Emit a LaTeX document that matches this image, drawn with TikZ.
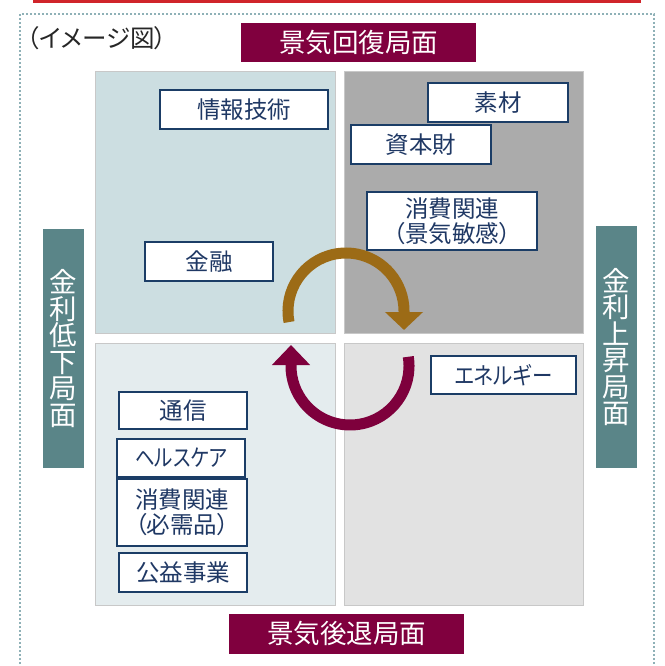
\documentclass[tikz,border=0pt]{standalone}
\usepackage{fontspec}
\usepackage{graphicx}
\setmainfont{Noto Sans CJK JP}[RawFeature=+palt]
\usetikzlibrary{arrows.meta,calc}
\newcommand\mytight{\lineskiplimit=-50pt\relax}
\definecolor{redline}{HTML}{D0242A}
\definecolor{dotc}{HTML}{8FB1B7}
\definecolor{qtlc}{HTML}{CCDEE1}
\definecolor{qtrc}{HTML}{ABABAB}
\definecolor{qblc}{HTML}{E4ECEE}
\definecolor{qbrc}{HTML}{E2E2E2}
\definecolor{quadedge}{HTML}{C8C8C8}
\definecolor{navyb}{HTML}{1B3D66}
\definecolor{navyt}{HTML}{1F3864}
\definecolor{maroonc}{HTML}{80003E}
\definecolor{tealc}{HTML}{5A8588}
\definecolor{goldc}{HTML}{9C6B16}
\definecolor{arcmaroon}{HTML}{7E003C}
\tikzset{
  quad/.style={draw=quadedge, line width=1pt, inner sep=0pt},
  item/.style={draw=navyb, line width=1.8pt, fill=white, text=navyt, font=\fontsize{23.5}{25}\selectfont\mytight, inner sep=0pt, align=center},
  phase/.style={fill=maroonc, text=white, font=\fontsize{26.5}{28}\selectfont, inner sep=0pt, minimum width=235pt},
  rate/.style={fill=tealc, text=white, font=\fontsize{27.5}{26.5}\selectfont\mytight, align=center, inner sep=0pt, minimum width=41pt},
  cyc/.style={line width=11pt},
}
\begin{document}
\begin{tikzpicture}[x=1pt,y=-1pt]
\useasboundingbox (0,0) rectangle (664,666);
% top red rule
\fill[redline] (33,0) rectangle (641,3);
% dotted frame
\draw[dotc, line width=2pt, dash pattern=on 2pt off 2pt] (20,668) -- (20,14) -- (654,14) -- (654,668);
% caption
\node[anchor=west, font=\fontsize{24.5}{26}\selectfont, text=black!85, inner sep=0pt] (cap) at (27,38) {（イメージ図）};
% quadrants
\node[quad, fill=qtlc, minimum width=240pt, minimum height=261pt] (qtl) at (215,202.5) {};
\node[quad, fill=qtrc, minimum width=239pt, minimum height=261pt] (qtr) at (463.5,202.5) {};
\node[quad, fill=qblc, minimum width=240pt, minimum height=262pt] (qbl) at (215,474) {};
\node[quad, fill=qbrc, minimum width=239pt, minimum height=262pt] (qbr) at (463.5,474) {};
% phase labels
\node[phase, minimum height=39pt] (up) at (358.5,42.5) {景気回復局面};
\node[phase, minimum height=40pt] (down) at (346.5,634) {景気後退局面};
\node[rate, minimum height=239pt] (low) at (63.5,348.5) {金\\利\\低\\下\\局\\面};
\node[rate, minimum height=242pt] (high) at (616.5,347) {金\\利\\上\\昇\\局\\面};
% sector boxes
\node[item, minimum width=168pt, minimum height=39pt] (it) at (244,109.5) {情報技術};
\node[item, minimum width=128pt, minimum height=39pt] (fin) at (209,261.5) {金融};
\node[item, minimum width=140pt, minimum height=39pt] (mat) at (498,102.5) {素材};
\node[item, minimum width=140pt, minimum height=39pt] (cap2) at (421,144.5) {資本財};
\node[item, minimum width=170pt, minimum height=58pt] (cd) at (452,221) {消費関連\\（景気敏感）};
\node[item, minimum width=145pt, minimum height=38pt] (ene) at (503.5,375) {\scalebox{0.87}[1]{エネルギー}};
\node[item, minimum width=128pt, minimum height=37pt] (tel) at (183,410.5) {通信};
\node[item, minimum width=128pt, minimum height=38pt] (hc) at (181,458) {\scalebox{0.83}[1]{ヘルスケア}};
\node[item, minimum width=130pt, minimum height=67pt] (cs) at (182,512.5) {消費関連\\（必需品）};
\node[item, minimum width=128pt, minimum height=39pt] (ut) at (183,572.5) {公益事業};
% cycle arrows
\coordinate (ca) at (346,311);
\coordinate (cb) at (350,366);
\draw[cyc, goldc, -{Triangle[width=37pt,length=18pt]}]
  ($(ca)+(169:58)$) arc[start angle=169, end angle=360, radius=58] -- ++(0,19);
\draw[cyc, arcmaroon, -{Triangle[width=37pt,length=20pt]}]
  ($(cb)+(-9:59)$) arc[start angle=-9, end angle=180, radius=59] -- ++(0,-21);
\end{tikzpicture}
\end{document}
